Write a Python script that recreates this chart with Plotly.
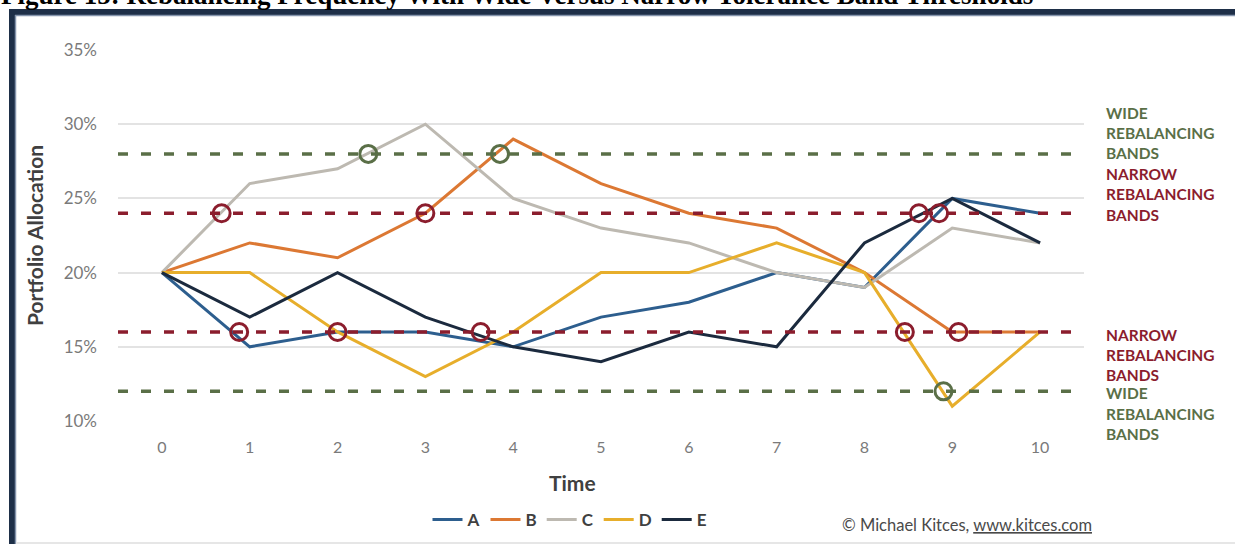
import plotly.graph_objects as go

# time steps and allocations (%) per asset
time = list(range(11))
alloc_a = [20, 15, 16, 16, 15, 17, 18, 20, 19, 25, 24]
alloc_b = [20, 22, 21, 24, 29, 26, 24, 23, 20, 16, 16]
alloc_c = [20, 26, 27, 30, 25, 23, 22, 20, 19, 23, 22]
alloc_d = [20, 20, 16, 13, 16, 20, 20, 22, 20, 11, 16]
alloc_e = [20, 17, 20, 17, 15, 14, 16, 15, 22, 25, 22]

series_names = ['A', 'B', 'C', 'D', 'E']
series_colors = ['#2d5e8e', '#dc7833', '#bdb9b1', '#e7ae2b', '#1b2a3e']

y_ticks = [10, 15, 20, 25, 30, 35]
y_labels = ['10%', '15%', '20%', '25%', '30%', '35%']

# band thresholds
wide_bands = [28, 12]
narrow_bands = [24, 16]

# rebalancing events (where a line crosses a band)
wide_hit_t = [2.35, 3.85, 8.9]
wide_hit_v = [28, 28, 12]
narrow_hit_t = [0.68, 3.0, 8.62, 8.85, 0.88, 2.0, 3.63, 8.46, 9.07]
narrow_hit_v = [24, 24, 24, 24, 16, 16, 16, 16, 16]

green = '#5a6f47'
red = '#8b1d2d'

W, H = 1235, 544
L, R, T, B = 118, 151, 50, 123
pw, ph = W - L - R, H - T - B


def px(x):
    return (x - L) / pw


def py(y):
    return (H - B - y) / ph


fig = go.Figure()

for name, vals, col in zip(series_names, [alloc_a, alloc_b, alloc_c, alloc_d, alloc_e], series_colors):
    fig.add_trace(go.Scatter(x=time, y=vals, name='<b>' + name + '</b>', mode='lines',
                             line=dict(color=col, width=3)))

for v in wide_bands:
    fig.add_trace(go.Scatter(x=[-0.5, 10.5], y=[v, v], mode='lines', showlegend=False,
                             line=dict(color=green, width=3.5, dash='10px,13px')))
for v in narrow_bands:
    fig.add_trace(go.Scatter(x=[-0.5, 10.5], y=[v, v], mode='lines', showlegend=False,
                             line=dict(color=red, width=3.5, dash='10px,13px')))

fig.add_trace(go.Scatter(x=wide_hit_t, y=wide_hit_v, mode='markers', showlegend=False,
                         marker=dict(symbol='circle-open', size=17, color=green,
                                     line=dict(width=3, color=green))))
fig.add_trace(go.Scatter(x=narrow_hit_t, y=narrow_hit_v, mode='markers', showlegend=False,
                         marker=dict(symbol='circle-open', size=17, color=red,
                                     line=dict(width=3, color=red))))

font = 'Lato, Open Sans, sans-serif'

fig.update_xaxes(range=[-0.5, 10.5], tickvals=time, showgrid=False, zeroline=False,
                 showline=False, ticks='', ticklabelstandoff=15,
                 tickfont=dict(size=16, color='#7a7a7a', family=font))
fig.update_yaxes(range=[10, 35], tickvals=y_ticks, ticktext=y_labels,
                 showgrid=True, gridcolor='#e3e3e3', gridwidth=1.5, zeroline=False,
                 ticks='', ticklabelstandoff=20,
                 tickfont=dict(size=17, color='#7a7a7a', family=font),
                 title=dict(text='<b>Portfolio Allocation</b>',
                            font=dict(size=21, color='#404040', family=font), standoff=14))

fig.add_annotation(x=px(572), xref='paper', y=py(482), yref='paper', text='<b>Time</b>',
                   showarrow=False, xanchor='center', yanchor='middle',
                   font=dict(size=21, color='#404040', family=font))

# right-hand band labels, one annotation per line
label_blocks = [
    (['WIDE', 'REBALANCING', 'BANDS'], 28, green, 41),
    (['NARROW', 'REBALANCING', 'BANDS'], 24, red, 39),
    (['NARROW', 'REBALANCING', 'BANDS'], 16, red, -3),
    (['WIDE', 'REBALANCING', 'BANDS'], 12, green, -2),
]
for words, v, col, top_shift in label_blocks:
    for i, w in enumerate(words):
        fig.add_annotation(x=px(1105), xref='paper', y=v, yref='y', text='<b>' + w + '</b>',
                           showarrow=False, xanchor='left', yanchor='middle', borderpad=0,
                           yshift=top_shift - 20.2 * i, font=dict(size=15.5, color=col, family=font))

fig.add_annotation(x=px(840), xref='paper', y=py(525), yref='paper',
                   text='© Michael Kitces, <u>www.kitces.com</u>', showarrow=False,
                   xanchor='left', yanchor='middle',
                   font=dict(size=16.5, color='#4a4a4a', family=font))

# figure caption cut off at top of page
fig.add_annotation(x=px(-1), xref='paper', y=py(12), yref='paper',
                   text='<b>Figure 15: Rebalancing Frequency With Wide Versus Narrow Tolerance Band Thresholds</b>',
                   showarrow=False, xanchor='left', yanchor='bottom',
                   font=dict(size=27, color='#000000', family='Liberation Serif, Times New Roman, serif'))

# frame
fig.add_shape(type='rect', xref='paper', yref='paper', x0=px(9), x1=px(1240), y0=py(15), y1=py(9),
              fillcolor='#1e2f48', line_width=0, layer='above')
fig.add_shape(type='line', xref='paper', yref='paper', x0=px(15), x1=px(1240), y0=py(15.5), y1=py(15.5),
              line=dict(color='#8494ac', width=1.5))
fig.add_shape(type='rect', xref='paper', yref='paper', x0=px(9), x1=px(15), y0=py(550), y1=py(9),
              fillcolor='#1e2f48', line_width=0, layer='above')
fig.add_shape(type='line', xref='paper', yref='paper', x0=px(15.5), x1=px(15.5), y0=py(550), y1=py(15),
              line=dict(color='#8494ac', width=1.5))
fig.add_shape(type='line', xref='paper', yref='paper', x0=px(16), x1=px(1240), y0=py(543), y1=py(543),
              line=dict(color='#e6e6e6', width=2))

fig.update_layout(
    width=W, height=H,
    margin=dict(l=L, r=R, t=T, b=B, autoexpand=False),
    paper_bgcolor='white', plot_bgcolor='white',
    showlegend=True,
    legend=dict(orientation='h', x=px(570), xanchor='center', y=py(520), yanchor='middle',
                font=dict(size=17, color='#404040', family=font), itemwidth=30,
                traceorder='normal', tracegroupgap=0),
)

fig.write_html('out.html', config={'displayModeBar': False},
               post_script="document.body.style.margin='0';")
